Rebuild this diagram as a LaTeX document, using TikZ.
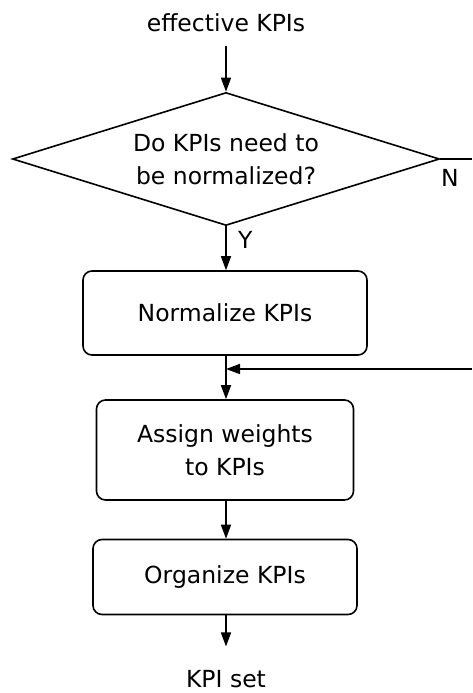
\documentclass[tikz,border=0pt]{standalone}
\usepackage{fontspec}
\setmainfont{DejaVu Sans}
\usepackage{tikz}
\usetikzlibrary{shapes.geometric,arrows.meta}

\begin{document}
\begin{tikzpicture}[x=1pt,y=-1pt,
  line width=1.6pt,
  every node/.style={font=\fontsize{23.5}{33}\selectfont},
  flow/.style={-{Triangle[length=14pt,width=10pt]}},
  stepbox/.style={draw,rectangle,rounded corners=9pt,align=center,inner sep=0pt},
  decbox/.style={draw,diamond,aspect=3.2,align=center,inner sep=0pt,
    minimum width=427pt,minimum height=133pt}]
\useasboundingbox (0,0) rectangle (472,693);
\node[inner sep=4pt] (start) at (226,23) {effective KPIs};
\node[decbox] (dec) at (226,159) {Do KPIs need to\\be normalized?};
\node[stepbox,minimum width=284pt,minimum height=84pt] (norm) at (225,313) {Normalize KPIs};
\node[stepbox,minimum width=257pt,minimum height=100pt] (assign) at (225,450) {Assign weights\\to KPIs};
\node[stepbox,minimum width=264pt,minimum height=75pt] (org) at (225,577) {Organize KPIs};
\node[inner sep=4pt] (kpiset) at (226,679) {KPI set};
\coordinate (nout) at (472,159);
\coordinate (nin) at (472,369);
\coordinate (join) at (226,369);
\draw[flow,shorten <=9pt] (start) -- (dec);
\draw[flow] (dec.south) -- node[pos=0.3,right=8pt] {Y} (norm.north -| dec.south);
\draw (dec.east) -- (nout);
\node at (450,178) {N};
\draw[flow] (nin) -- (join);
\draw[flow] (norm.south -| join) -- (assign.north -| join);
\draw[flow] (assign.south -| join) -- (org.north -| join);
\draw[flow,shorten >=19pt] (org.south -| join) -- (kpiset);
\end{tikzpicture}
\end{document}
